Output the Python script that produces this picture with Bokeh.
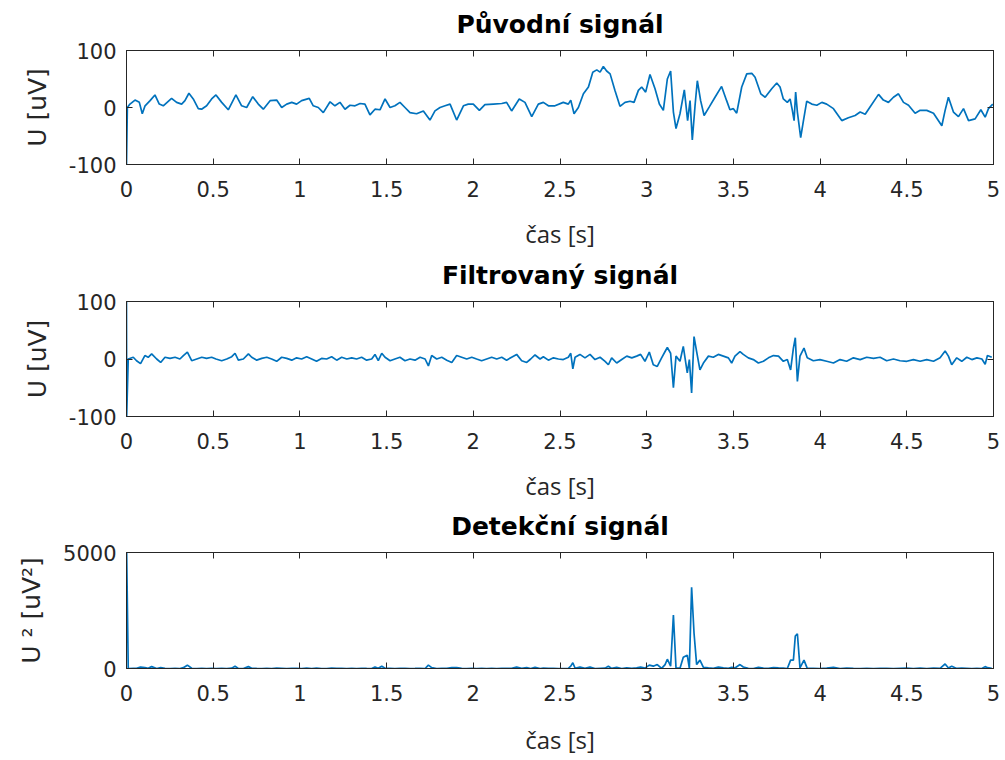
from bokeh.plotting import figure
from bokeh.layouts import column
from bokeh.models import FixedTicker, LinearAxis, Range1d, CustomLabelingPolicy
from bokeh.embed import file_html
from bokeh.resources import INLINE

# ---------------- data ----------------
titles = ["Původní signál", "Filtrovaný signál", "Detekční signál"]
x_label = "čas [s]"
y_labels = ["U [uV]", "U [uV]", "U ² [uV²]"]

x_ticks = [0, 0.5, 1, 1.5, 2, 2.5, 3, 3.5, 4, 4.5, 5]
x_tick_labels = ["0", "0.5", "1", "1.5", "2", "2.5", "3", "3.5", "4", "4.5", "5"]
u_ticks = [-100, 0, 100]
u_tick_labels = ["-100", "0", "100"]
d_ticks = [0, 5000]
d_tick_labels = ["0", "5000"]

orig_t = [0, 0.005, 0.020, 0.049, 0.074, 0.091, 0.107, 0.136, 0.164, 0.189, 0.212, 0.260, 0.289, 0.318,
          0.337, 0.360, 0.385, 0.414, 0.433, 0.462, 0.491, 0.516, 0.549, 0.587, 0.631, 0.664, 0.693, 0.728,
          0.760, 0.789, 0.828, 0.866, 0.895, 0.924, 0.953, 0.981, 1.010, 1.054, 1.077, 1.106, 1.135, 1.174,
          1.202, 1.231, 1.260, 1.289, 1.318, 1.347, 1.375, 1.404, 1.433, 1.462, 1.491, 1.520, 1.548, 1.577,
          1.606, 1.635, 1.673, 1.712, 1.750, 1.779, 1.808, 1.837, 1.866, 1.904, 1.943, 1.971, 2.000, 2.035,
          2.067, 2.116, 2.164, 2.192, 2.221, 2.265, 2.298, 2.337, 2.375, 2.404, 2.433, 2.471,
          2.519, 2.548, 2.562, 2.581, 2.606, 2.635, 2.664, 2.689, 2.712, 2.731, 2.750, 2.769, 2.789, 2.817,
          2.846, 2.875, 2.904, 2.927, 2.952, 2.971, 2.994, 3.019, 3.048, 3.073, 3.096, 3.119, 3.138, 3.154,
          3.169, 3.192, 3.217, 3.236, 3.250, 3.263, 3.279, 3.292, 3.311, 3.331, 3.361, 3.394, 3.432, 3.461,
          3.480, 3.500, 3.519, 3.548, 3.577, 3.606, 3.625, 3.658, 3.683, 3.721, 3.750, 3.769, 3.788, 3.811,
          3.827, 3.840, 3.850, 3.859, 3.869, 3.888, 3.904, 3.923, 3.952, 3.981, 4.010, 4.038, 4.077, 4.125,
          4.163, 4.202, 4.231, 4.260, 4.288, 4.337, 4.365, 4.394, 4.423, 4.452, 4.481, 4.510, 4.548, 4.577,
          4.615, 4.654, 4.702, 4.721, 4.740, 4.769, 4.798, 4.827, 4.856, 4.894, 4.927, 4.952, 4.971, 4.996]
orig_v = [-100, 0, 6, 13, 9, -11, 3, 12, 22, 6, 3, 16, 9, 6,
          12, 25, 15, -2, -3, 3, 15, 22, 9, -4, 22, 3, 0, 19,
          6, -3, 12, 13, 0, 6, 9, 6, 12, 16, 3, 0, -9, 10,
          3, 9, -3, 4, 3, 7, 6, -13, -3, -4, 15, 0, 3, 9,
          0, -9, -11, -6, -22, -6, 0, 3, 6, -22, 3, 6, 6, -5,
          5, 6, 7, 9, -6, 15, 9, -16, 6, 9, 3, 3,
          9, 6, 13, -11, 0, 24, 36, 62, 66, 62, 72, 64, 59, 30,
          2, 9, 11, 9, 30, 36, 27, 58, 33, 6, -5, 50, 64, -8,
          -37, -11, 31, -23, 12, -57, 4, 47, 12, -14, 1, 18, 37, 12,
          -4, -2, -10, 36, 59, 60, 53, 24, 18, 33, 43, 36, 15, 9,
          15, -5, -23, 27, -8, -53, -23, 11, 6, 4, 9, 6, -2, -23,
          -18, -14, -8, -12, 1, 23, 13, 9, 18, 24, 9, 4, -10, -5,
          -5, -10, -32, -5, 18, -8, -16, -2, -23, -20, -4, -17, -2, 6]

filt_t = [0, 0.001, 0.010, 0.039, 0.058, 0.081, 0.106, 0.125, 0.145, 0.174, 0.197, 0.222, 0.251, 0.280,
          0.308, 0.328, 0.351, 0.376, 0.405, 0.434, 0.462, 0.491, 0.516, 0.549, 0.578, 0.607, 0.626, 0.645,
          0.674, 0.703, 0.722, 0.751, 0.780, 0.809, 0.837, 0.866, 0.895, 0.924, 0.953, 0.981, 1.010, 1.039,
          1.068, 1.096, 1.125, 1.154, 1.183, 1.212, 1.241, 1.270, 1.299, 1.327, 1.356, 1.385, 1.414, 1.433,
          1.452, 1.472, 1.491, 1.520, 1.548, 1.577, 1.606, 1.635, 1.664, 1.693, 1.722, 1.741, 1.760, 1.789,
          1.818, 1.847, 1.876, 1.904, 1.933, 1.962, 1.991, 2.019, 2.048, 2.077, 2.106, 2.135, 2.164, 2.192,
          2.221, 2.250, 2.279, 2.308, 2.331, 2.356, 2.385, 2.404, 2.433, 2.462, 2.491,
          2.519, 2.548, 2.562, 2.574, 2.587, 2.615, 2.644, 2.673, 2.702, 2.731, 2.760, 2.779, 2.798, 2.827,
          2.856, 2.885, 2.914, 2.942, 2.965, 2.990, 3.015, 3.038, 3.061, 3.086, 3.106, 3.119, 3.138, 3.154,
          3.169, 3.192, 3.211, 3.234, 3.246, 3.259, 3.273, 3.288, 3.307, 3.327, 3.356, 3.384, 3.413, 3.442,
          3.471, 3.490, 3.509, 3.538, 3.557, 3.586, 3.615, 3.644, 3.673, 3.702, 3.731, 3.760, 3.788, 3.811,
          3.830, 3.846, 3.857, 3.869, 3.884, 3.907, 3.926, 3.961, 3.999, 4.038, 4.077, 4.115, 4.153, 4.192,
          4.231, 4.269, 4.308, 4.346, 4.384, 4.423, 4.461, 4.500, 4.538, 4.577, 4.615, 4.654, 4.692, 4.721,
          4.740, 4.759, 4.788, 4.817, 4.846, 4.875, 4.904, 4.933, 4.952, 4.965, 4.990]
filt_v = [100, -100, 0, 3, -3, -8, 6, 3, 9, 0, -6, 3, 1, 3,
          0, 6, 12, -3, 0, 3, 1, 3, 0, -3, 0, 4, 10, -2,
          0, 9, 3, -2, 1, 3, 0, -4, 3, 1, -2, 2, 0, 4,
          0, -4, 1, 0, 4, -2, 3, 0, 2, 0, 3, -2, 0, 8,
          -3, 10, 3, -3, 0, 3, -3, 0, -2, 3, 0, -12, 6, 0,
          3, -2, -6, 6, 3, 0, 3, 0, -3, 0, 3, 0, 3, -2,
          3, 8, -3, -6, 0, 7, 0, 4, -2, 2, 0,
          -1, 3, 10, -17, 3, 8, 2, 8, -1, 3, -4, -10, 2, -7,
          -1, 5, 2, 5, 8, -4, 12, -10, -13, 2, 13, 20, 10, -50,
          5, -4, 22, -24, -1, -59, 39, 13, -19, -7, 5, 3, 8, 5,
          2, -7, 5, 13, 8, 2, -1, -7, -4, 2, 6, 5, -4, -1,
          -19, 19, 37, -39, 5, 19, 2, -3, -1, -4, -7, -1, -4, 2,
          -1, 3, 1, 3, -3, 0, -3, -4, -1, -4, -1, -4, 2, 14,
          5, -10, 2, -4, 3, -1, 2, 0, -9, 6, 3]

det_t = filt_t
det_v = [5000, 5000, 0, 9, 9, 64, 36, 9, 81, 0, 36, 9, 1, 9,
         0, 36, 144, 9, 0, 9, 1, 9, 0, 9, 0, 16, 100, 4,
         0, 81, 9, 4, 1, 9, 0, 16, 9, 1, 4, 4, 0, 16,
         0, 16, 1, 0, 16, 4, 9, 0, 4, 0, 9, 4, 0, 64,
         9, 100, 9, 9, 0, 9, 9, 0, 4, 9, 0, 144, 36, 0,
         9, 4, 36, 36, 9, 0, 9, 0, 9, 0, 9, 0, 9, 4,
         9, 64, 9, 36, 0, 49, 0, 16, 4, 4, 0,
         1, 9, 100, 250, 9, 64, 4, 64, 1, 9, 16, 100, 4, 49,
         1, 25, 4, 25, 64, 16, 144, 100, 169, 4, 169, 400, 100, 2300,
         25, 16, 484, 576, 1, 3500, 1520, 169, 361, 49, 25, 9, 64, 25,
         4, 49, 25, 169, 64, 4, 1, 49, 16, 4, 36, 25, 16, 1,
         361, 361, 1400, 1500, 25, 361, 4, 9, 1, 16, 49, 1, 16, 4,
         1, 9, 1, 9, 9, 0, 9, 16, 1, 16, 1, 16, 4, 196,
         25, 100, 4, 16, 9, 1, 4, 0, 81, 36, 9]

assert len(orig_t) == len(orig_v), (len(orig_t), len(orig_v))
assert len(filt_t) == len(filt_v), (len(filt_t), len(filt_v))
assert len(det_t) == len(det_v), (len(det_t), len(det_v))

# ---------------- styling ----------------
AX = "#262626"
LINE = "#0072BD"
TICK_FONT = "DejaVu Sans"
NO_LABELS = "for (const i of indices) indices.unset(i); return indices"


def box_axis(ticks):
    return LinearAxis(ticker=FixedTicker(ticks=ticks), major_tick_in=6, major_tick_out=0,
                      minor_tick_in=0, minor_tick_out=0,
                      major_label_policy=CustomLabelingPolicy(code=NO_LABELS),
                      major_label_standoff=0, axis_line_color=AX, major_tick_line_color=AX)


def panel(t, v, title, ylab, yr, yt, ytl, top_b, frame_h, bot_b, xlab_standoff):
    p = figure(frame_width=867, frame_height=frame_h,
               x_range=Range1d(0, 5), y_range=Range1d(yr[0], yr[1]),
               output_backend="svg", toolbar_location=None,
               min_border_left=126, min_border_right=12,
               min_border_top=top_b, min_border_bottom=bot_b,
               title=title, background_fill_color="white", border_fill_color="white")
    p.title.align = "center"
    p.title.text_font = "DejaVu Sans"
    p.title.text_font_style = "bold"
    p.title.text_font_size = "25px"
    p.title.text_color = "black"
    p.title.standoff = 2
    p.xgrid.visible = False
    p.ygrid.visible = False
    p.outline_line_color = AX
    p.outline_line_width = 1

    xa = p.xaxis[0]
    xa.ticker = FixedTicker(ticks=x_ticks)
    xa.major_label_overrides = {k: s for k, s in zip(x_ticks, x_tick_labels)}
    ya = p.yaxis[0]
    ya.ticker = FixedTicker(ticks=yt)
    ya.major_label_overrides = {k: s for k, s in zip(yt, ytl)}
    for a in (xa, ya):
        a.major_tick_in = 6
        a.major_tick_out = 0
        a.minor_tick_in = 0
        a.minor_tick_out = 0
        a.axis_line_color = AX
        a.major_tick_line_color = AX
        a.major_label_text_font = TICK_FONT
        a.major_label_text_font_size = "21px"
        a.major_label_text_color = AX
    xa.major_label_standoff = 16
    ya.major_label_standoff = 10
    xa.axis_label = x_label
    xa.axis_label_text_font = "Open Sans"
    xa.axis_label_text_font_size = "24px"
    xa.axis_label_text_font_style = "normal"
    xa.axis_label_text_color = AX
    xa.axis_label_standoff = xlab_standoff
    ya.axis_label = ylab
    ya.axis_label_text_font = "DejaVu Sans"
    ya.axis_label_text_font_size = "25px"
    ya.axis_label_text_font_style = "normal"
    ya.axis_label_text_color = AX
    ya.axis_label_standoff = 14

    p.add_layout(box_axis(x_ticks), "above")
    p.add_layout(box_axis(yt), "right")

    p.line(t, v, line_color=LINE, line_width=1.7)
    return p


p1 = panel(orig_t, orig_v, titles[0], y_labels[0], (-100, 100), u_ticks, u_tick_labels, 50, 114, 90, 17)
p2 = panel(filt_t, filt_v, titles[1], y_labels[1], (-100, 100), u_ticks, u_tick_labels, 47, 115, 90, 17)
p3 = panel(det_t, det_v, titles[2], y_labels[2], (0, 5000), d_ticks, d_tick_labels, 46, 116, 92, 19)

layout = column(p1, p2, p3, spacing=0)
open("out.html", "w").write(file_html(layout, INLINE))
